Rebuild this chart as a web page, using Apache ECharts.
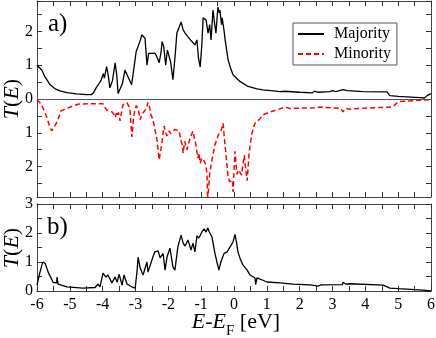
<!DOCTYPE html>
<html>
<head>
<meta charset="utf-8">
<script src="https://cdn.jsdelivr.net/npm/echarts@6/dist/echarts.min.js"></script>
<style>
  html, body { margin: 0; padding: 0; background: #fff; }
  #chart { width: 436px; height: 338px; }
</style>
</head>
<body>
<div id="chart"></div>
<script>
// panel a) majority spin, energy (eV) and T(E)
var majE = [-6.00,-5.95,-5.85,-5.76,-5.60,-5.45,-5.30,-5.09,-4.80,-4.48,-4.35,-4.28,-4.20,-4.15,-4.10,-4.05,-4.03,-3.98,-3.95,-3.88,-3.83,-3.78,-3.70,-3.62,-3.57,-3.53,-3.47,-3.40,-3.32,-3.25,-3.12,-3.05,-2.98,-2.92,-2.85,-2.81,-2.75,-2.71,-2.65,-2.60,-2.56,-2.48,-2.41,-2.35,-2.28,-2.22,-2.19,-2.14,-2.08,-2.03,-1.98,-1.93,-1.86,-1.80,-1.74,-1.68,-1.61,-1.55,-1.49,-1.45,-1.40,-1.34,-1.28,-1.22,-1.19,-1.13,-1.08,-1.03,-0.98,-0.94,-0.88,-0.85,-0.79,-0.74,-0.70,-0.64,-0.60,-0.55,-0.49,-0.45,-0.43,-0.38,-0.36,-0.30,-0.27,-0.18,-0.10,-0.03,0.18,0.43,0.70,0.88,1.20,1.40,1.45,1.55,2.00,2.38,2.45,2.55,2.92,3.00,3.10,3.32,3.45,3.93,4.66,4.70,4.75,5.00,5.67,5.80,5.88,6.00];
var majT = [1.00,1.02,0.85,0.66,0.42,0.30,0.24,0.19,0.15,0.13,0.13,0.18,0.33,0.40,0.38,0.55,0.52,0.75,0.62,0.96,0.70,0.33,0.55,1.07,0.70,0.16,0.15,0.45,0.86,0.70,0.42,0.90,1.40,1.45,1.75,1.90,1.85,1.80,1.00,1.35,1.40,1.35,1.36,1.25,1.07,1.40,1.70,1.55,1.00,1.45,1.50,1.10,0.57,1.20,1.95,2.10,2.28,2.05,1.95,2.00,1.84,1.80,1.70,1.75,1.60,1.75,1.20,0.95,1.60,2.40,2.45,2.34,1.95,2.20,1.75,2.63,2.30,1.95,2.72,2.55,2.63,2.20,2.40,2.00,1.75,1.16,0.90,0.72,0.52,0.37,0.30,0.27,0.24,0.22,0.25,0.23,0.20,0.18,0.23,0.20,0.22,0.25,0.22,0.28,0.25,0.22,0.21,0.17,0.10,0.08,0.04,0.03,0.10,0.16];

// panel a) minority spin, drawn downwards
var minE = [-6.00,-5.97,-5.90,-5.82,-5.70,-5.60,-5.55,-5.50,-5.40,-5.27,-5.12,-4.95,-4.72,-4.40,-3.99,-3.93,-3.87,-3.80,-3.72,-3.66,-3.62,-3.58,-3.56,-3.52,-3.47,-3.42,-3.38,-3.26,-3.20,-3.17,-3.11,-3.05,-2.98,-2.92,-2.86,-2.80,-2.77,-2.68,-2.62,-2.57,-2.53,-2.47,-2.40,-2.34,-2.28,-2.22,-2.19,-2.13,-2.08,-2.04,-1.98,-1.93,-1.89,-1.80,-1.74,-1.67,-1.62,-1.58,-1.55,-1.50,-1.46,-1.43,-1.40,-1.35,-1.31,-1.25,-1.20,-1.16,-1.10,-1.07,-1.03,-0.98,-0.94,-0.90,-0.85,-0.82,-0.80,-0.78,-0.74,-0.67,-0.62,-0.58,-0.52,-0.49,-0.44,-0.40,-0.33,-0.30,-0.27,-0.21,-0.18,-0.13,-0.09,-0.05,-0.03,0.03,0.09,0.14,0.18,0.23,0.27,0.31,0.36,0.40,0.46,0.50,0.55,0.64,0.76,0.88,1.10,1.31,1.55,1.71,2.00,2.32,2.62,3.00,3.25,3.32,3.40,3.53,4.00,4.50,4.84,5.00,5.50,5.97];
var minT = [0.02,0.05,0.12,0.26,0.55,0.85,0.94,0.95,0.70,0.35,0.29,0.22,0.15,0.14,0.14,0.25,0.33,0.36,0.38,0.45,0.55,0.42,0.50,0.40,0.65,0.35,0.17,0.11,0.22,0.30,1.12,0.47,0.20,0.28,0.61,0.45,0.40,0.30,0.10,0.25,0.47,0.60,0.95,1.24,1.80,1.45,1.24,0.80,1.00,1.09,0.94,1.02,1.00,0.90,0.85,0.95,1.20,1.35,1.60,1.25,1.20,1.50,1.45,1.20,1.09,0.95,1.20,1.35,1.75,1.60,1.90,1.75,1.70,1.85,1.97,2.30,3.00,3.00,2.20,1.80,1.55,1.35,1.20,1.09,1.05,0.95,0.72,1.10,1.40,2.00,2.30,2.45,2.50,2.40,2.75,1.55,2.23,2.10,2.08,2.25,2.30,1.67,2.10,2.42,1.60,1.30,1.00,0.71,0.62,0.47,0.38,0.32,0.24,0.28,0.27,0.27,0.24,0.26,0.28,0.38,0.28,0.30,0.27,0.25,0.23,0.08,0.05,0.02];

// panel b)
var bE = [-6.00,-5.92,-5.85,-5.82,-5.75,-5.66,-5.51,-5.40,-5.39,-5.36,-5.09,-4.60,-4.23,-4.14,-4.08,-3.99,-3.90,-3.84,-3.72,-3.62,-3.56,-3.50,-3.41,-3.35,-3.26,-3.11,-3.01,-2.95,-2.92,-2.86,-2.77,-2.65,-2.62,-2.47,-2.41,-2.31,-2.25,-2.16,-2.10,-2.04,-1.95,-1.86,-1.80,-1.71,-1.61,-1.55,-1.49,-1.40,-1.31,-1.25,-1.19,-1.13,-1.07,-0.97,-0.91,-0.85,-0.80,-0.76,-0.70,-0.67,-0.58,-0.52,-0.46,-0.40,-0.30,-0.21,-0.12,-0.03,0.03,0.09,0.12,0.18,0.27,0.40,0.49,0.64,0.66,0.70,1.01,1.40,1.80,2.32,2.56,2.65,3.30,3.32,3.40,3.53,4.54,4.75,5.00,5.76,6.00];
var bT = [0.20,0.60,0.90,1.00,0.95,0.65,0.30,0.28,0.48,0.24,0.14,0.10,0.12,0.24,0.14,0.62,0.48,0.55,0.28,0.48,0.30,0.58,0.20,0.55,0.24,0.14,0.10,0.72,1.17,0.80,0.55,1.00,0.65,1.17,1.35,1.38,1.14,1.30,0.72,1.17,1.48,0.83,0.72,1.52,1.93,1.65,1.55,1.76,1.41,1.65,1.35,1.90,1.83,2.05,2.14,2.03,2.17,2.05,2.05,1.86,1.30,1.00,0.72,1.00,1.30,1.35,1.52,1.69,1.95,1.59,1.35,1.14,0.90,0.72,0.55,0.45,0.22,0.45,0.31,0.28,0.24,0.21,0.17,0.21,0.22,0.30,0.24,0.25,0.20,0.10,0.08,0.03,0.00];

var FONT = '"Liberation Serif", "DejaVu Serif", serif';

function zip(xs, ys, sign){
    var out = [];
    for (var i = 0; i < xs.length; i++) {
        out.push([xs[i], sign * ys[i]]);
    }
    return out;
}

var frameLine = {show: true, onZero: false, lineStyle: {color: '#444', width: 1}};
var tickStyle = {color: '#333', width: 1};

// integer labels only, shown as magnitudes (minority is drawn below zero)
function intLabel(v){
    return Math.abs(v - Math.round(v)) < 1e-6 ? String(Math.abs(Math.round(v))) : '';
}

// x axes: majors every 1 eV, minors every 0.5
function xAxis(grid, pos, labels){
    return {
        type: 'value', gridIndex: grid, position: pos,
        min: -6, max: 6, interval: 1,
        axisLine: frameLine,
        splitLine: {show: false},
        axisTick: {show: true, inside: true, length: 5, lineStyle: tickStyle},
        minorTick: {show: true, splitNumber: 2, length: 5, lineStyle: tickStyle},
        minorSplitLine: {show: false},
        axisLabel: labels ? {show: true, margin: 6,
                             fontFamily: FONT, fontSize: 16, color: '#000'}
                          : {show: false}
    };
}

function yAxis(grid, pos, lo, hi, labels){
    return {
        type: 'value', gridIndex: grid, position: pos,
        min: lo, max: hi, minInterval: 1, maxInterval: 1,
        axisLine: frameLine,
        splitLine: {show: false},
        axisTick: {show: true, inside: true, length: 5, lineStyle: tickStyle},
        minorTick: {show: true, splitNumber: 2, length: 5, lineStyle: tickStyle},
        minorSplitLine: {show: false},
        axisLabel: labels ? {show: true, margin: 4, showMinLabel: true, showMaxLabel: true,
                             fontFamily: FONT, fontSize: 16, color: '#000',
                             formatter: intLabel}
                          : {show: false}
    };
}

var myChart = echarts.init(document.getElementById('chart'), null, {renderer: 'canvas'});

myChart.setOption({
    animation: false,
    backgroundColor: '#fff',
    grid: [
        {left: 37, top: 1, width: 394, height: 196, outerBoundsMode: 'none'},
        {left: 37, top: 204, width: 394, height: 87, outerBoundsMode: 'none'}
    ],
    xAxis: [
        xAxis(0, 'bottom', false),
        xAxis(0, 'top', false),
        xAxis(1, 'bottom', true),
        xAxis(1, 'top', false)
    ],
    yAxis: [
        yAxis(0, 'left', -2.9, 2.9, true),
        yAxis(0, 'right', -2.9, 2.9, false),
        yAxis(1, 'left', 0, 3, true),
        yAxis(1, 'right', 0, 3, false)
    ],
    legend: {
        data: ['Majority', 'Minority'],
        orient: 'vertical',
        left: 293, top: 23,
        itemWidth: 26, itemHeight: 14, itemGap: 4,
        padding: [3, 6, 3, 4],
        borderColor: '#555', borderWidth: 1,
        itemStyle: {opacity: 0},
        textStyle: {fontFamily: FONT, fontSize: 16, color: '#000', padding: [0, 0, 0, 5]}
    },
    series: [
        {
            name: 'Majority', type: 'line', xAxisIndex: 0, yAxisIndex: 0,
            data: zip(majE, majT, 1),
            symbol: 'none', z: 3,
            lineStyle: {color: '#000', width: 1.3},
            itemStyle: {color: '#000'},
            markLine: {
                silent: true, symbol: 'none', label: {show: false},
                lineStyle: {color: '#555', width: 1, type: 'solid'},
                data: [{yAxis: 0}]
            }
        },
        {
            name: 'Minority', type: 'line', xAxisIndex: 0, yAxisIndex: 0,
            data: zip(minE, minT, -1),
            symbol: 'none', z: 2,
            lineStyle: {color: '#ff0000', width: 1.5, type: [5, 3]},
            itemStyle: {color: '#ff0000'}
        },
        {
            name: 'b', type: 'line', xAxisIndex: 2, yAxisIndex: 2,
            data: zip(bE, bT, 1),
            symbol: 'none',
            lineStyle: {color: '#000', width: 1.3},
            itemStyle: {color: '#000'}
        }
    ],
    graphic: [
        {type: 'text', left: 48, top: 12, style: {text: 'a)', font: '25px ' + FONT, fill: '#000'}},
        {type: 'text', left: 47, top: 215, style: {text: 'b)', font: '25px ' + FONT, fill: '#000'}},
        {type: 'text', x: 12, y: 99, rotation: Math.PI / 2,
         style: {text: '{i|T}({i|E})', font: '22px ' + FONT, fill: '#000', align: 'center', verticalAlign: 'middle',
                 rich: {i: {fontStyle: 'italic', fontFamily: FONT, fontSize: 22}}}},
        {type: 'text', x: 12, y: 248, rotation: Math.PI / 2,
         style: {text: '{i|T}({i|E})', font: '22px ' + FONT, fill: '#000', align: 'center', verticalAlign: 'middle',
                 rich: {i: {fontStyle: 'italic', fontFamily: FONT, fontSize: 22}}}},
        {type: 'text', x: 236, y: 322,
         style: {text: '{i|E}{n|-}{i|E}{s|F}{n| [eV]}', fill: '#000', align: 'center', verticalAlign: 'middle',
                 rich: {
                     i: {fontStyle: 'italic', fontFamily: FONT, fontSize: 22, lineHeight: 22},
                     n: {fontFamily: FONT, fontSize: 22, lineHeight: 22},
                     s: {fontFamily: FONT, fontSize: 15, lineHeight: 15, padding: [18, 0, 0, 0]}
                 }}}
    ]
});
</script>
</body>
</html>
